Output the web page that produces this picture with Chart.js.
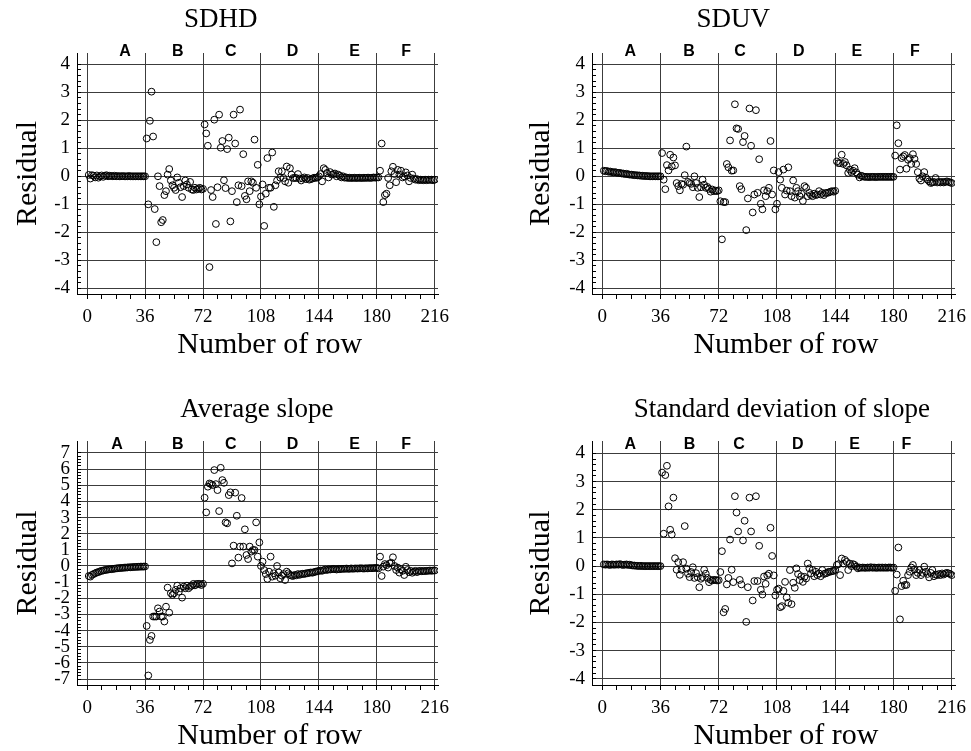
<!DOCTYPE html>
<html lang="en">
<head>
<meta charset="UTF-8">
<title>Residuals by row</title>
<script src="https://cdn.jsdelivr.net/npm/chart.js"></script>
<style>
  body { margin: 0; background: #fff; overflow: hidden; }
  #wrap { position: relative; width: 971px; height: 751px; }
  canvas { position: absolute; }
</style>
</head>
<body>
<div id="wrap">
  <canvas id="c1" width="485" height="389" style="left:0;top:0"></canvas>
  <canvas id="c2" width="486" height="389" style="left:485px;top:0"></canvas>
  <canvas id="c3" width="485" height="362" style="left:0;top:389px"></canvas>
  <canvas id="c4" width="486" height="362" style="left:485px;top:389px"></canvas>
</div>
<script>
// groups of 36 rows
const segments = ['A', 'B', 'C', 'D', 'E', 'F'];
const xTickValues = [0, 36, 72, 108, 144, 180, 216];

// residuals, rows 1..216
const sdhd = [
  0.05, -0.08, 0.04, 0.02, -0.04, 0.03, -0.05, 0.0, 0.03, -0.02, 0.02, 0.04,
  0.0, 0.02, 0.01, 0.0, 0.02, 0.0, 0.01, 0.0, 0.0, 0.01, 0.0, 0.0,
  0.0, 0.01, 0.0, 0.0, 0.0, 0.0, 0.0, 0.0, 0.0, 0.0, 0.0, 0.0,
  1.35, -1.0, 1.98, 3.02, 1.42, -1.17, -2.35, 0.0, -0.35, -1.64, -1.56, -0.67,
  -0.53, 0.06, 0.26, -0.15, -0.32, -0.41, -0.49, -0.04, -0.23, -0.39, -0.74, -0.35,
  -0.15, -0.29, -0.41, -0.2, -0.47, -0.49, -0.41, -0.47, -0.44, -0.41, -0.47, -0.45,
  1.85, 1.53, 1.09, -3.24, -0.49, -0.74, 2.02, -1.70, -0.39, 2.2, 1.02, 1.26,
  -0.14, -0.42, 0.97, 1.38, -1.61, -0.53, 2.2, 1.17, -0.92, -0.32, 2.38, -0.35,
  0.79, -0.7, -0.82, -0.18, -0.53, -0.18, -0.23, 1.31, -0.41, 0.41, -1.0, -0.72,
  -0.29, -1.77, -0.62, 0.65, -0.41, -0.41, 0.85, -1.09, -0.32, -0.15, 0.18, -0.05,
  0.18, -0.06, -0.18, 0.35, -0.23, 0.29, 0.06, -0.06, -0.06, -0.06, 0.08, -0.08,
  -0.15, -0.08, -0.04, -0.1, -0.06, -0.12, -0.1, -0.08, -0.05, -0.06, -0.04, 0.0,
  0.08, -0.18, 0.29, 0.23, 0.12, -0.04, 0.15, 0.06, 0.08, 0.1, 0.0, 0.06,
  0.02, -0.04, 0.0, -0.05, -0.04, -0.06, -0.05, -0.06, -0.06, -0.05, -0.06, -0.06,
  -0.05, -0.06, -0.06, -0.05, -0.06, -0.05, -0.05, -0.06, -0.05, -0.04, -0.05, -0.04,
  -0.04, 0.2, 1.17, -0.92, -0.67, -0.62, -0.06, -0.32, 0.18, 0.34, 0.08, -0.21,
  0.23, 0.06, 0.2, -0.04, 0.0, 0.14, 0.03, -0.18, -0.06, 0.06, -0.08, -0.12,
  -0.1, -0.14, -0.12, -0.13, -0.14, -0.12, -0.14, -0.12, -0.13, -0.12, -0.14, -0.12
];

const sduv = [
  0.2, 0.18, 0.19, 0.16, 0.17, 0.15, 0.14, 0.15, 0.13, 0.12, 0.12, 0.1,
  0.1, 0.08, 0.09, 0.07, 0.06, 0.06, 0.05, 0.04, 0.04, 0.03, 0.03, 0.02,
  0.02, 0.01, 0.01, 0.01, 0.0, 0.0, 0.0, 0.0, 0.0, 0.0, 0.0, 0.0,
  0.83, -0.12, -0.46, 0.40, 0.21, 0.77, 0.35, 0.67, 0.39, -0.24, -0.35, -0.5,
  -0.27, -0.3, 0.04, 1.06, -0.2, -0.24, -0.27, -0.39, 0.0, -0.24, -0.41, -0.74,
  -0.39, -0.12, -0.3, -0.41, -0.38, -0.45, -0.55, -0.47, -0.53, -0.51, -0.53, -0.5,
  -0.89, -2.25, -0.92, -0.92, 0.44, 0.32, 1.28, 0.2, 0.21, 2.57, 1.71, 1.69,
  -0.35, -0.46, 1.22, 1.44, -1.92, -0.79, 2.42, 1.09, -1.29, -0.65, 2.36, -0.59,
  0.61, -0.98, -1.18, -0.5, -0.71, -0.53, -0.41, 1.26, -0.65, 0.21, -1.18, -0.98,
  0.15, -0.12, -0.41, 0.24, -0.65, -0.51, 0.32, -0.53, -0.71, -0.15, -0.76, -0.41,
  -0.53, -0.71, -0.62, -0.88, -0.35, -0.41, -0.71, -0.59, -0.67, -0.71, -0.62, -0.67,
  -0.65, -0.53, -0.65, -0.59, -0.67, -0.6, -0.59, -0.58, -0.55, -0.53, -0.55, -0.52,
  0.53, 0.47, 0.47, 0.77, 0.44, 0.51, 0.39, 0.12, 0.24, 0.15, 0.2, 0.29,
  0.14, 0.06, -0.04, 0.02, 0.0, -0.02, -0.02, -0.02, -0.03, -0.02, -0.02, -0.02,
  -0.03, -0.02, -0.02, -0.02, -0.02, -0.02, -0.02, -0.02, -0.02, -0.02, -0.02, -0.02,
  0.74, 1.82, 1.18, 0.24, 0.65, 0.71, 0.76, 0.27, 0.59, 0.65, 0.44, 0.79,
  0.62, 0.44, 0.15, -0.08, -0.15, 0.0, 0.15, -0.05, -0.12, -0.18, -0.24, -0.22,
  -0.2, -0.06, -0.22, -0.2, -0.22, -0.2, -0.22, -0.2, -0.18, -0.2, -0.22, -0.24
];

const avgSlope = [
  -0.62, -0.66, -0.55, -0.5, -0.45, -0.4, -0.38, -0.33, -0.3, -0.28, -0.25, -0.24,
  -0.22, -0.2, -0.2, -0.18, -0.17, -0.15, -0.14, -0.13, -0.12, -0.12, -0.1, -0.1,
  -0.09, -0.08, -0.08, -0.07, -0.06, -0.06, -0.05, -0.05, -0.04, -0.04, -0.04, -0.03,
  -3.71, -6.78, -4.58, -4.33, -3.13, -3.13, -3.13, -2.62, -2.82, -3.13, -3.13, -3.44,
  -2.52, -1.34, -2.89, -1.69, -1.79, -1.69, -1.48, -1.22, -1.59, -1.38, -1.96, -1.28,
  -1.38, -1.22, -1.38, -1.28, -1.22, -1.11, -1.2, -1.11, -1.11, -1.11, -1.18, -1.1,
  4.23, 3.32, 4.91, 5.11, 5.07, 5.01, 5.94, 5.07, 4.7, 3.4, 6.08, 5.32,
  5.15, 2.7, 2.64, 4.39, 4.56, 0.16, 1.26, 4.54, 3.11, 0.52, 1.2, 4.21,
  1.2, 2.27, 0.68, 0.43, 1.2, 0.89, 0.99, 0.99, 2.7, 0.58, 1.46, 0.0,
  0.27, -0.25, -0.5, -0.8, -0.35, 0.58, -0.66, -0.45, -0.6, 0.0, -0.4, -0.76,
  -0.6, -0.5, -0.87, -0.35, -0.45, -0.55, -0.6, -0.62, -0.55, -0.58, -0.5, -0.55,
  -0.5, -0.48, -0.5, -0.45, -0.45, -0.42, -0.4, -0.42, -0.38, -0.35, -0.33, -0.3,
  -0.28, -0.3, -0.25, -0.22, -0.25, -0.2, -0.22, -0.2, -0.18, -0.2, -0.22, -0.18,
  -0.2, -0.18, -0.17, -0.18, -0.16, -0.17, -0.18, -0.15, -0.17, -0.16, -0.15, -0.16,
  -0.15, -0.14, -0.15, -0.16, -0.14, -0.15, -0.14, -0.13, -0.14, -0.13, -0.12, -0.12,
  -0.15, 0.58, -0.62, -0.04, 0.12, 0.05, -0.1, 0.16, 0.2, 0.54, 0.0, -0.25,
  -0.1, -0.41, -0.2, -0.3, -0.56, -0.05, -0.25, -0.38, -0.3, -0.42, -0.35, -0.3,
  -0.38, -0.32, -0.3, -0.33, -0.3, -0.32, -0.3, -0.3, -0.28, -0.3, -0.28, -0.28
];

const sdSlope = [
  0.06, 0.05, 0.06, 0.05, 0.04, 0.06, 0.05, 0.05, 0.06, 0.05, 0.07, 0.05,
  0.04, 0.05, 0.06, 0.04, 0.05, 0.03, 0.02, 0.02, 0.01, 0.01, 0.0, 0.01,
  0.0, 0.0, 0.0, 0.0, 0.0, 0.0, 0.0, 0.0, 0.0, 0.0, 0.0, 0.0,
  3.32, 1.15, 3.23, 3.56, 2.12, 1.29, 1.12, 2.43, 0.28, -0.13, 0.14, -0.31,
  -0.13, 0.14, 1.42, -0.09, -0.27, -0.39, -0.21, -0.04, -0.42, -0.25, -0.39, -0.75,
  -0.45, -0.39, -0.13, -0.27, -0.42, -0.57, -0.49, -0.51, -0.49, -0.49, -0.51, -0.5,
  -0.21, 0.53, -1.64, -1.52, -0.65, -0.42, 0.94, -0.13, -0.57, 2.48, 1.9, 1.23,
  -0.49, -0.65, 0.91, 1.61, -1.98, -0.75, 2.43, 1.23, -1.22, -0.53, 2.48, -0.53,
  0.72, -0.84, -1.01, -0.37, -0.63, -0.33, -0.27, 1.36, 0.36, -0.33, -1.04, -0.84,
  -0.8, -1.46, -1.42, -0.88, -0.56, -1.11, -1.3, -0.14, -1.35, -0.59, -0.77, -0.08,
  -0.28, -0.5, -0.36, -0.56, -0.38, -0.44, 0.09, -0.08, -0.26, -0.14, -0.36, -0.2,
  -0.32, -0.26, -0.36, -0.14, -0.28, -0.26, -0.24, -0.2, -0.2, -0.18, -0.17, -0.14,
  0.04, 0.07, -0.32, 0.27, 0.09, 0.22, 0.15, -0.14, 0.09, 0.0, 0.07, 0.04,
  -0.02, -0.08, -0.05, -0.06, -0.05, -0.06, -0.06, -0.05, -0.06, -0.04, -0.06, -0.05,
  -0.06, -0.06, -0.05, -0.06, -0.05, -0.06, -0.05, -0.06, -0.05, -0.05, -0.06, -0.05,
  -0.88, -0.3, 0.66, -1.89, -0.71, -0.52, -0.67, -0.67, -0.32, -0.2, -0.05, 0.04,
  -0.12, -0.32, -0.24, -0.14, -0.32, -0.24, -0.02, -0.2, -0.28, -0.4, -0.24, -0.14,
  -0.36, -0.3, -0.32, -0.28, -0.32, -0.26, -0.3, -0.26, -0.24, -0.26, -0.28, -0.32
];

const rows = sdhd.map((_, i) => i + 1);

const serif = '"Liberation Serif", "Times New Roman", serif';
const gridColor = '#3c3c3c';

function isWhole(v) {
  return Math.abs(v - Math.round(v)) < 1e-6;
}

// ticks every 0.2, labels only on whole numbers
function yTickList(lim) {
  const list = [];
  for (let k = -5 * lim; k <= 5 * lim; k++) list.push({ value: k / 5 });
  return list;
}

function xTickList() {
  const list = [];
  for (let v = 0; v <= 216; v += 9) list.push({ value: v });
  return list;
}

// heading, group letters and x caption
const panelText = {
  id: 'panelText',
  afterDraw(chart, args, opts) {
    const { ctx, chartArea } = chart;
    const x = chart.scales.x;
    ctx.save();
    ctx.fillStyle = '#000';
    ctx.textAlign = 'center';
    ctx.textBaseline = 'middle';
    ctx.font = '27px ' + serif;
    ctx.fillText(opts.title, x.getPixelForValue(opts.titleAt), opts.titleY);
    ctx.font = '30px ' + serif;
    ctx.fillText('Number of row', x.getPixelForValue(113.5), opts.captionY);
    ctx.font = 'bold 16px "Liberation Sans", Arial, sans-serif';
    segments.forEach((s, i) => {
      ctx.fillText(s, x.getPixelForValue(opts.letterAt[i]), chartArea.top + opts.letterDy);
    });
    ctx.restore();
  }
};

const panels = [
  { id: 'c1', title: 'SDHD', values: sdhd, lim: 4, yMin: -4.2, yMax: 4.4,
    titleAt: 83, titleY: 20, captionY: 345, top: 53, xH: 95, axisW: 77, padRight: 47, yTitlePad: 10,
    letterDy: -1, letterAt: [23.6, 56.3, 89.3, 127.6, 166.2, 198.2] },
  { id: 'c2', title: 'SDUV', values: sduv, lim: 4, yMin: -4.2, yMax: 4.4,
    titleAt: 81, titleY: 20, captionY: 345, top: 53, xH: 95, axisW: 107, padRight: 16, yTitlePad: 38,
    letterDy: -1, letterAt: [17.4, 53.6, 85.2, 121.4, 157.4, 193.2] },
  { id: 'c3', title: 'Average slope', values: avgSlope, lim: 7, yMin: -7.37, yMax: 7.74,
    titleAt: 105.5, titleY: 21, captionY: 347, top: 52, xH: 66, axisW: 77, padRight: 47, yTitlePad: 10,
    letterDy: 4, letterAt: [18.5, 56.3, 89.3, 127.6, 166.2, 198.2] },
  { id: 'c4', title: 'Standard deviation of slope', values: sdSlope, lim: 4, yMin: -4.22, yMax: 4.44,
    titleAt: 111, titleY: 21, captionY: 347, top: 52, xH: 66, axisW: 107, padRight: 16, yTitlePad: 38,
    letterDy: 4, letterAt: [17.4, 54, 84.6, 120.8, 156, 188] }
];

panels.forEach(p => {
  new Chart(document.getElementById(p.id), {
    type: 'scatter',
    data: {
      datasets: [{
        data: rows.map((r, i) => ({ x: r, y: p.values[i] })),
        pointRadius: 3.4,
        pointBorderWidth: 1,
        pointBorderColor: '#000',
        pointBackgroundColor: 'rgba(0,0,0,0)'
      }]
    },
    options: {
      responsive: false,
      animation: false,
      layout: { padding: { top: p.top, right: p.padRight, bottom: 0, left: 0 } },
      plugins: {
        legend: { display: false },
        tooltip: { enabled: false },
        panelText: p
      },
      scales: {
        x: {
          type: 'linear',
          min: -6.3,
          max: 218,
          afterBuildTicks: s => { s.ticks = xTickList(); },
          afterFit: s => { s.height = p.xH; s.paddingLeft = 0; s.paddingRight = 0; },
          ticks: {
            autoSkip: false,
            maxRotation: 0,
            padding: 7,
            color: '#000',
            font: { family: serif, size: 19 },
            callback: v => (xTickValues.includes(v) ? String(v) : '')
          },
          grid: {
            color: c => (c.tick && xTickValues.includes(c.tick.value) ? gridColor : 'rgba(0,0,0,0)'),
            tickColor: '#000',
            tickLength: 5
          },
          border: { color: '#000', width: 1 }
        },
        y: {
          type: 'linear',
          min: p.yMin,
          max: p.yMax,
          afterBuildTicks: s => { s.ticks = yTickList(p.lim); },
          afterFit: s => { s.width = p.axisW; },
          ticks: {
            autoSkip: false,
            padding: 11,
            color: '#000',
            font: { family: serif, size: 19 },
            callback: v => (isWhole(v) ? String(Math.round(v)) : '')
          },
          grid: {
            color: c => (c.tick && isWhole(c.tick.value) ? gridColor : 'rgba(0,0,0,0)'),
            tickColor: '#000',
            tickLength: -4
          },
          border: { color: '#000', width: 1 },
          title: {
            display: true,
            text: 'Residual',
            color: '#000',
            font: { family: serif, size: 30 },
            padding: { top: p.yTitlePad, bottom: 0 }
          }
        }
      }
    },
    plugins: [panelText]
  });
});
</script>
</body>
</html>
